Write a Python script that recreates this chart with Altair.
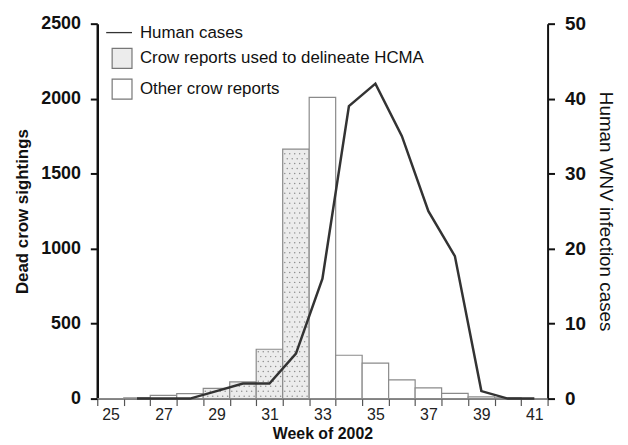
import altair as alt
import pandas as pd

weeks = list(range(25, 42))
crow_sightings = [0, 5, 22, 33, 68, 112, 329, 1664, 2009, 289, 237, 125, 72, 35, 12, 5, 0]
hcma_weeks = [29, 30, 31, 32]
human_weeks = list(range(26, 42))
human_cases = [0, 0, 0, 1, 2, 2, 6, 16, 39, 42, 35, 25, 19, 1, 0, 0]

HCMA = "Crow reports used to delineate HCMA"
OTHER = "Other crow reports"
LINE_NAME = "Human cases"

bars_df = pd.DataFrame({
    "week": weeks,
    "crows": crow_sightings,
    "type": [HCMA if w in hcma_weeks else OTHER for w in weeks],
})
line_df = pd.DataFrame({"week": human_weeks, "cases": human_cases, "series": LINE_NAME})

FONT = "Liberation Sans"

x_enc = alt.X(
    "week:O",
    scale=alt.Scale(domain=weeks, paddingInner=0, paddingOuter=0),
    axis=alt.Axis(
        title="Week of 2002",
        titleFont=FONT, titleFontSize=16, titleFontWeight="bold", titleColor="#111",
        titlePadding=3,
        tickBand="extent", labelAngle=0, labelOverlap=False,
        labelExpr="datum.value % 2 == 1 ? datum.label : ''",
        labelFont=FONT, labelFontSize=16, labelColor="#222", labelPadding=1,
        domainColor="#555", domainWidth=1.5, tickColor="#555", tickWidth=1.2, tickSize=7,
        grid=False,
    ),
)

left_scale = alt.Scale(domain=[0, 2500], nice=False)

y_left = alt.Y(
    "crows:Q",
    scale=left_scale,
    axis=alt.Axis(
        title="Dead crow sightings", values=[0, 500, 1000, 1500, 2000, 2500], format="d",
        titleFont=FONT, titleFontSize=17, titleFontWeight="bold", titleColor="#111",
        titlePadding=9,
        labelFont=FONT, labelFontSize=18, labelFontWeight="bold", labelColor="#111",
        labelPadding=10, tickSize=7, tickWidth=2, tickColor="#111",
        domainColor="#111", domainWidth=2.5, grid=False,
    ),
)

bars = alt.Chart(bars_df).mark_bar(stroke="#8a8a8a", strokeWidth=1.2).encode(
    x=x_enc,
    y=y_left,
    fill=alt.Fill(
        "type:N",
        scale=alt.Scale(domain=[HCMA, OTHER], range=["#ececec", "#ffffff"]),
        legend=alt.Legend(
            title=None, orient="none", legendX=14, legendY=24,
            symbolType="square", symbolSize=400, symbolStrokeColor="#777",
            symbolStrokeWidth=1.2, symbolOpacity=1,
            labelFont=FONT, labelFontSize=17, labelColor="#111", labelOffset=7,
            labelLimit=0, rowPadding=5, padding=0,
        ),
    ),
)

# stipple texture for the HCMA bars, derived from the bar values
dots = (
    alt.Chart(bars_df)
    .transform_filter(alt.FieldEqualPredicate(field="type", equal=HCMA))
    .transform_calculate(lv="sequence(16, datum.crows - 8, 33)")
    .transform_flatten(["lv"])
    .transform_calculate(
        row="round((datum.lv - 16) / 33)",
        cols="datum.row % 2 == 0 ? [1, 3, 5, 7, 9] : [0, 2, 4, 6, 8]",
    )
    .transform_flatten(["cols"])
    .mark_circle(
        size=2.2, color="#8c8c8c", opacity=1,
        xOffset=alt.ExprRef(expr="(datum.cols - 4.5) * 2.5"),
    )
    .encode(
        x=alt.X("week:O"),
        y=alt.Y("lv:Q", scale=left_scale),
    )
)

line = alt.Chart(line_df).mark_line(strokeWidth=2.5).encode(
    x=alt.X("week:O"),
    y=alt.Y(
        "cases:Q",
        scale=alt.Scale(domain=[0, 50], nice=False),
        axis=alt.Axis(
            orient="right", title="Human WNV infection cases", values=[0, 10, 20, 30, 40, 50],
            titleFont=FONT, titleFontSize=19, titleFontWeight="normal", titleColor="#111",
            titlePadding=10,
            labelFont=FONT, labelFontSize=19, labelFontWeight="bold", labelColor="#111",
            labelPadding=10, tickSize=7, tickWidth=2, tickColor="#111",
            domainColor="#111", domainWidth=2, grid=False,
        ),
    ),
    stroke=alt.Stroke(
        "series:N",
        scale=alt.Scale(domain=[LINE_NAME], range=["#333333"]),
        legend=alt.Legend(
            title=None, orient="none", legendX=8, legendY=-5,
            symbolType="stroke", symbolSize=676, symbolStrokeWidth=1.3,
            labelFont=FONT, labelFontSize=17, labelColor="#111", labelOffset=7,
            padding=0,
        ),
    ),
)

chart = (
    alt.layer(alt.layer(bars, dots), line)
    .resolve_scale(y="independent", fill="independent", stroke="independent")
    .properties(width=454, height=378, background="white")
    .configure_view(strokeWidth=0)
)

chart.save("out.html", embed_options={"renderer": "svg", "actions": False})
